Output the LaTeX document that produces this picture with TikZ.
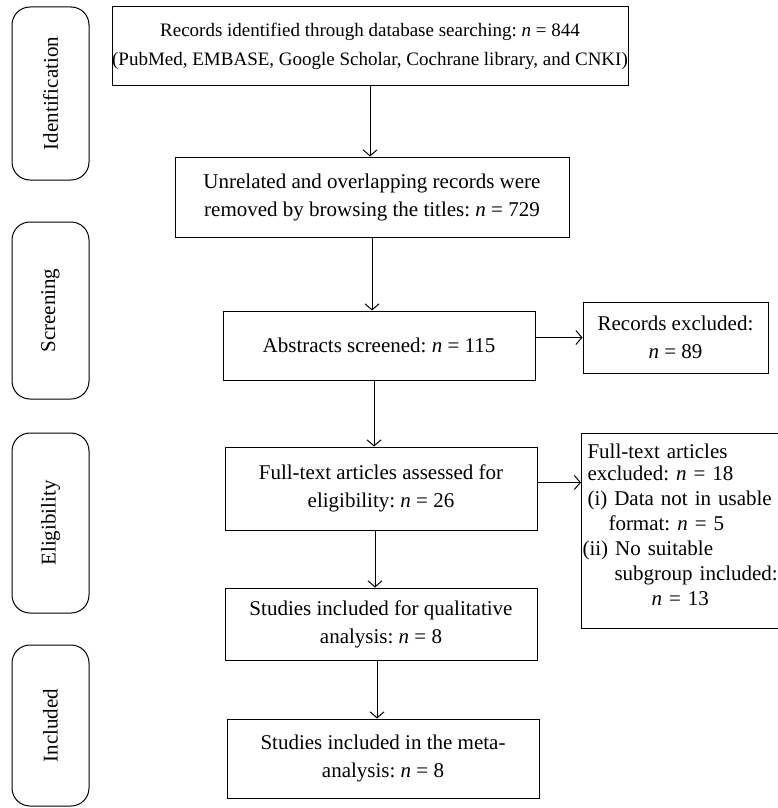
\documentclass[tikz,border=0pt]{standalone}
\usepackage{fontspec}
\setmainfont{Liberation Serif}
\usetikzlibrary{arrows.meta}
\frenchspacing
\begin{document}
\begin{tikzpicture}[x=1pt, y=-1pt, >={Straight Barb[length=6pt,width=14pt]}, line width=1pt,
        font=\fontsize{21}{28}\selectfont]
        \tikzstyle{box}=[draw, shape=rectangle, align=center, inner sep=0pt]
        \tikzstyle{stage}=[draw, shape=rectangle, rounded corners=18pt, minimum height=77pt, rotate=90]
        \useasboundingbox (0,0) rectangle (778,808);

        % phases on the left
        \node[stage, minimum width=173pt](ident) at (50.5, 93.5){Identification};
        \node[stage, minimum width=177pt](screen) at (50.5, 310.5){Screening};
        \node[stage, minimum width=180pt](elig) at (50.5, 523){Eligibility};
        \node[stage, minimum width=161pt](incl) at (50.5, 725.5){Included};

        % main flow
        \node[box, minimum width=516pt, minimum height=78pt, font=\fontsize{19}{29}\selectfont](rec) at (370, 46){Records identified through database searching: \textit{n} = 844\\(PubMed, EMBASE, Google Scholar, Cochrane library, and CNKI)};
        \node[box, minimum width=394pt, minimum height=80pt](unrel) at (372, 197){Unrelated and overlapping records were\\removed by browsing the titles: \textit{n} = 729};
        \node[box, minimum width=312pt, minimum height=69pt](abst) at (379, 345.5){Abstracts screened: \textit{n} = 115};
        \node[box, minimum width=312pt, minimum height=83pt](full) at (381, 488.5){Full-text articles assessed for\\eligibility: \textit{n} = 26};
        \node[box, minimum width=312pt, minimum height=72pt](qual) at (381, 624){Studies included for qualitative\\analysis: \textit{n} = 8};
        \node[box, minimum width=312pt, minimum height=79pt](meta) at (383, 758.5){Studies included in the meta-\\analysis: \textit{n} = 8};

        % exclusions
        \node[box, minimum width=185pt, minimum height=71pt](excl1) at (675.5, 337.5){Records excluded:\\\textit{n} = 89};
        \node[box, anchor=north west, align=left, text width=214pt, minimum height=195pt,
              inner xsep=6pt, font=\fontsize{21}{25}\selectfont](excl2) at (581, 433){Full-text articles\\[-3pt]
              excluded: \textit{n} = 18\\
              (i) Data not in usable\\
              \hspace*{21pt}format: \textit{n} = 5\\
              \hspace*{-5pt}(ii) No suitable\\
              \hspace*{27pt}subgroup included:\\
              \hspace*{64pt}\textit{n} = 13\\[-13pt]\mbox{}};

        \draw[->] (rec.south) -- (rec.south |- unrel.north);
        \draw[->] (unrel.south) -- (unrel.south |- abst.north);
        \draw[->] ([xshift=-5pt]abst.south) -- ([xshift=-5pt]abst.south |- full.north);
        \draw[->] ([xshift=-6pt]full.south) -- ([xshift=-6pt]full.south |- qual.north);
        \draw[->] ([xshift=-4pt]qual.south) -- ([xshift=-4pt]qual.south |- meta.north);
        \draw[->] (excl1.west -| abst.east) -- (excl1.west);
        \draw[->] ([yshift=6pt]full.east) -- ([yshift=6pt]full.east -| excl2.west);

        \end{tikzpicture}
\end{document}
